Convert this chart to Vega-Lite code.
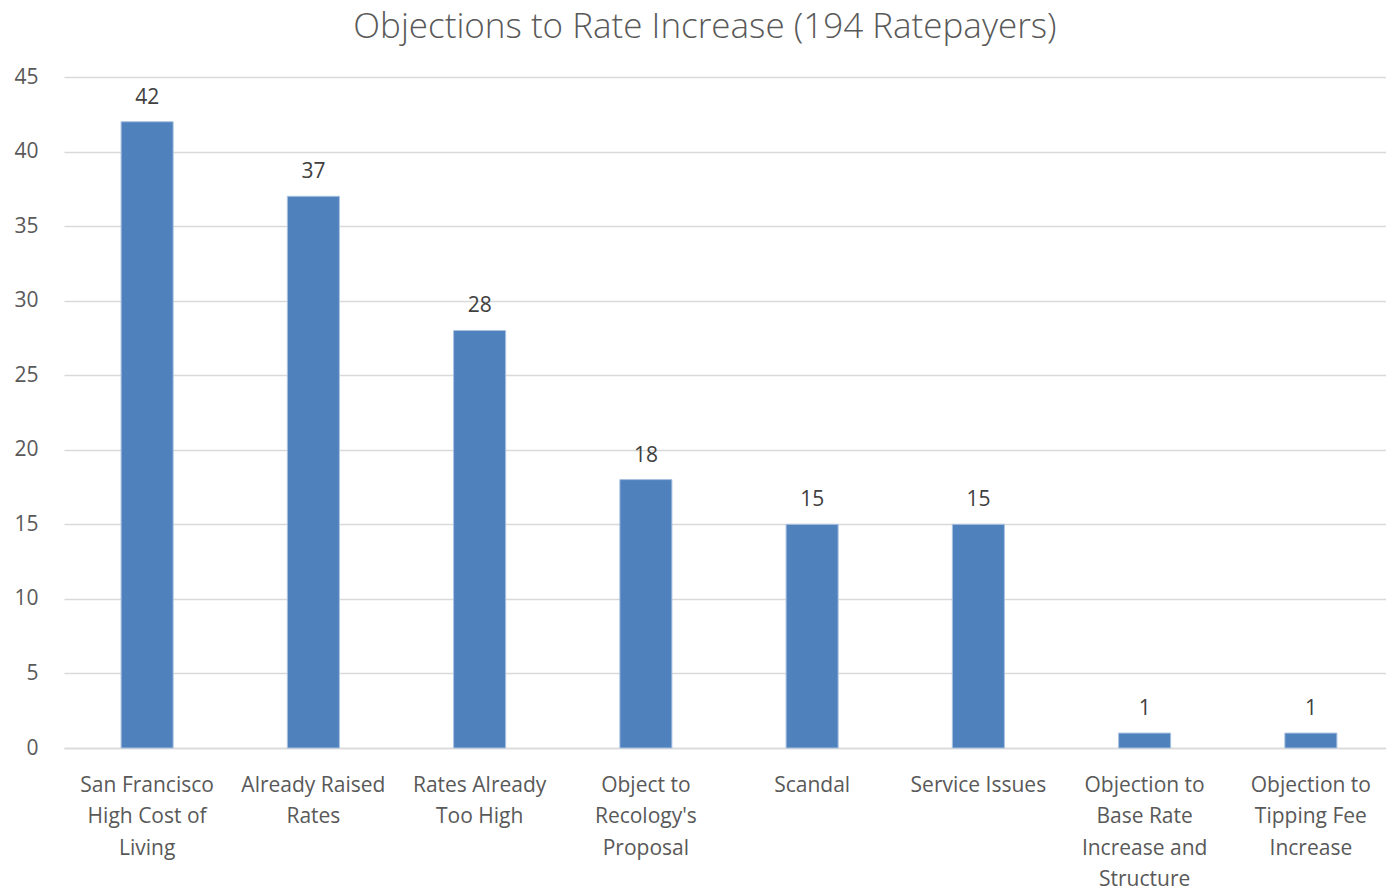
{
  "$schema": "https://vega.github.io/schema/vega-lite/v6.json",
  "width": 1330,
  "height": 671,
  "autosize": {"type": "none"},
  "padding": {"left": 64, "top": 77, "right": 0, "bottom": 142},
  "background": "white",
  "title": {
    "text": "Objections to Rate Increase (194 Ratepayers)",
    "fontSize": 35,
    "font": "Open Sans",
    "fontWeight": 300,
    "color": "#595959",
    "anchor": "middle",
    "dx": -24,
    "offset": 21
  },
  "config": {
    "view": {"stroke": null},
    "font": "Open Sans"
  },
  "data": {
    "values": [
      {"category": "San Francisco\nHigh Cost of\nLiving", "count": 42},
      {"category": "Already Raised\nRates", "count": 37},
      {"category": "Rates Already\nToo High", "count": 28},
      {"category": "Object to\nRecology's\nProposal", "count": 18},
      {"category": "Scandal", "count": 15},
      {"category": "Service Issues", "count": 15},
      {"category": "Objection to\nBase Rate\nIncrease and\nStructure", "count": 1},
      {"category": "Objection to\nTipping Fee\nIncrease", "count": 1}
    ]
  },
  "encoding": {
    "x": {
      "field": "category",
      "type": "nominal",
      "sort": null,
      "scale": {"paddingInner": 0.687, "paddingOuter": 0.3435},
      "axis": {
        "title": null,
        "labelAngle": 0,
        "labelExpr": "split(datum.label, '\\n')",
        "labelFontSize": 21,
        "labelColor": "#595959",
        "labelLineHeight": 31.5,
        "labelPadding": 26,
        "labelBaseline": "top",
        "ticks": false,
        "domainColor": "#d9d9d9",
        "domainWidth": 1.5,
        "labelLimit": 300
      }
    },
    "y": {
      "field": "count",
      "type": "quantitative",
      "scale": {"domain": [0, 45]},
      "axis": {
        "title": null,
        "values": [0, 5, 10, 15, 20, 25, 30, 35, 40, 45],
        "labelFontSize": 21,
        "labelColor": "#595959",
        "labelPadding": 26,
        "ticks": false,
        "domain": false,
        "gridColor": "#d9d9d9",
        "gridWidth": 1.5
      }
    }
  },
  "layer": [
    {
      "mark": {"type": "bar", "color": "#4f81bd", "stroke": "#a9c2e0", "strokeWidth": 1}
    },
    {
      "mark": {"type": "text", "dy": -24, "fontSize": 21, "color": "#404040"},
      "encoding": {"text": {"field": "count", "type": "quantitative"}}
    }
  ]
}
